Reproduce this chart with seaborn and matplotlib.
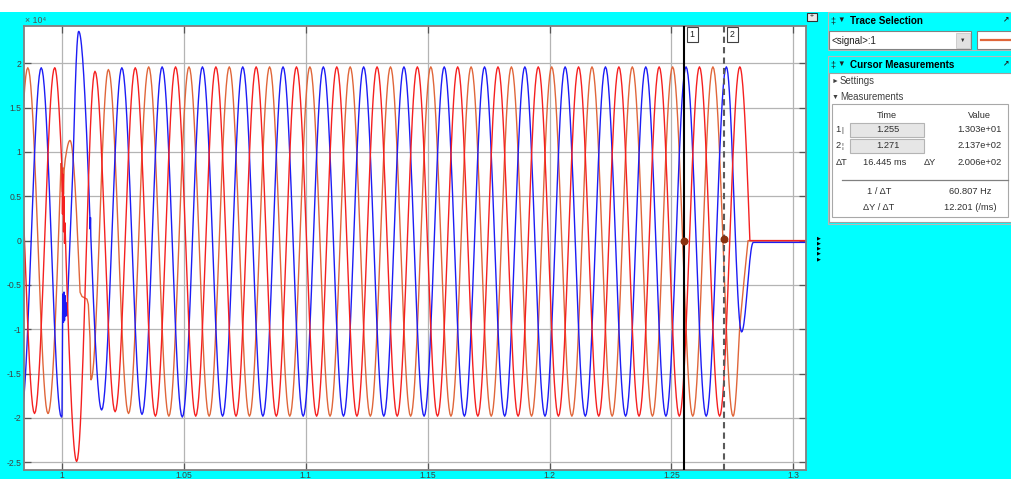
import numpy as np
import pandas as pd
import seaborn as sns
import matplotlib.pyplot as plt
from matplotlib.patches import Rectangle

# %%
# Values: time in s, amplitude in units of 1e4
signal_names = ['orange', 'blue', 'red']          # drawing order, red on top
signal_colors = {'orange': '#e0663a', 'blue': '#1c1cf5', 'red': '#f52020'}

half_period = 0.008266                              # s, peak to trough
steady_peak, steady_trough = 1.96, -1.98

# pre-fault cycles + fault transient at t = 1.000
# kind: 'x' = turning point (flat tangent), 'm' = point on a slope
orange_fault_t = [0.97770, 0.98597, 0.99424, 0.99959, 1.00020, 1.00041, 1.00062, 1.00082,
                  1.00123, 1.00328, 1.00738, 1.00820, 1.01026, 1.01080, 1.01149, 1.01190]
orange_fault_v = [-1.95, 1.95, -1.95, 0.87, 0.55, 0.82, 0.52, 0.78,
                  0.90, 1.13, -0.58, -0.63, -0.66, -0.72, -1.10, -1.57]
orange_fault_k = 'xxxmmmmmmxmmmmmx'

blue_fault_t = [0.98321, 0.99148, 0.99975, 1.00000, 1.00020, 1.00041, 1.00062, 1.00082,
                1.00103, 1.00123, 1.00144, 1.00164, 1.00205, 1.00451, 1.00685, 1.01145,
                1.01157, 1.01169, 1.01182]
blue_fault_v = [-1.95, 1.95, -1.99, -1.97, -0.90, -0.60, -0.92, -0.58,
                -0.90, -0.62, -0.85, -0.70, -0.85, 0.85, 2.36, 0.28,
                0.13, 0.26, 0.05]
blue_fault_k = 'xxxmmmmmmmmmmmxmmmm'

red_fault_t = [0.98047, 0.98873, 0.99699, 1.00000, 1.00020, 1.00041, 1.00062, 1.00082,
               1.00103, 1.00123, 1.00144, 1.00603]
red_fault_v = [1.95, -1.95, 1.95, 0.81, 0.30, 0.75, 0.10, 0.50,
               -0.03, 0.20, -0.02, -2.49]
red_fault_k = 'xxxmmmmmmmmx'

# steady oscillation after the fault: first turning point, count, settling extremes
steady_start = {'orange': 1.01903, 'blue': 1.01628, 'red': 1.01352}
steady_count = {'orange': 32, 'blue': 32, 'red': 33}
steady_sign = {'orange': 1, 'blue': -1, 'red': 1}
settle = {'orange': [1.93, -1.95, 1.96, -1.98],
          'blue': [-1.91, 1.95, -1.96, 1.96, -1.99],
          'red': [1.91, -1.93, 1.95, -1.98, 1.96]}

# breaker opening at the end, then flat
orange_end_t, orange_end_v, orange_end_k = [1.27793, 1.27937, 1.28142, 1.3060], [-1.00, -0.56, 0.0, 0.0], 'mmmm'
blue_end_t, blue_end_v, blue_end_k = [1.27877, 1.28359, 1.3060], [-1.03, -0.02, -0.02], 'xxm'
red_end_t, red_end_v, red_end_k = [1.28218, 1.3060], [0.0, 0.0], 'mm'

# cursors (signal 1)
cursor_t = [1.255, 1.2714]
cursor_v = [13.03, 213.7]           # raw value
table_rows = [('ΔT', '16.445 ms', 'ΔY', '2.006e+02')]
table_rate = [('1 / ΔT', '60.807 Hz'), ('ΔY / ΔT', '12.201 (/ms)')]

x_ticks = [1, 1.05, 1.1, 1.15, 1.2, 1.25, 1.3]
y_ticks = [-2.5, -2, -1.5, -1, -0.5, 0, 0.5, 1, 1.5, 2]

fault = {'orange': (orange_fault_t, orange_fault_v, orange_fault_k),
         'blue': (blue_fault_t, blue_fault_v, blue_fault_k),
         'red': (red_fault_t, red_fault_v, red_fault_k)}
ends = {'orange': (orange_end_t, orange_end_v, orange_end_k),
        'blue': (blue_end_t, blue_end_v, blue_end_k),
        'red': (red_end_t, red_end_v, red_end_k)}


def knots(name):
    t, v, k = list(fault[name][0]), list(fault[name][1]), fault[name][2]
    for j in range(steady_count[name]):
        t.append(steady_start[name] + j * half_period)
        if j < len(settle[name]):
            v.append(settle[name][j])
        else:
            v.append(steady_peak if steady_sign[name] * (-1) ** j > 0 else steady_trough)
        k += 'x'
    t += ends[name][0]
    v += ends[name][1]
    k += ends[name][2]
    return t, v, k


def curve(t, v, k, n=20):
    # shape between turning points follows the sine of the trace
    ts, vs = [], []
    s = np.linspace(0, 1, n, endpoint=False)
    for i in range(len(t) - 1):
        pair = k[i] + k[i + 1]
        if pair == 'xx':
            f = (1 - np.cos(np.pi * s)) / 2
        elif pair == 'xm':
            f = 1 - np.cos(np.pi * s / 2)
        elif pair == 'mx':
            f = np.sin(np.pi * s / 2)
        else:
            f = s
        ts.append(t[i] + (t[i + 1] - t[i]) * s)
        vs.append(v[i] + (v[i + 1] - v[i]) * f)
    ts.append([t[-1]])
    vs.append([v[-1]])
    return np.concatenate(ts), np.concatenate(vs)


frames = []
for name in signal_names:
    tt, vv = curve(*knots(name))
    frames.append(pd.DataFrame({'time': tt, 'value': vv, 'signal': name}))
df = pd.concat(frames, ignore_index=True)

# %%
plt.rcParams['font.family'] = ['Liberation Sans', 'DejaVu Sans']
plt.rcParams['axes.unicode_minus'] = False

fig = plt.figure(figsize=(10.11, 4.79), dpi=100, facecolor='#00ffff')
ax = fig.add_axes([24 / 1011, 9 / 479, 782 / 1011, 444 / 479])
ax.set_facecolor('white')

sns.lineplot(
    data=df
    , x='time'
    , y='value'
    , hue='signal'
    , hue_order=signal_names
    , palette=signal_colors
    , estimator=None
    , sort=False
    , legend=False
    , lw=1.0
    , ax=ax
)

ax.set_xlim(0.98441, 1.30520)
ax.set_ylim(-2.587, 2.4207)
ax.set_xticks(x_ticks)
ax.set_xticklabels(['%g' % x for x in x_ticks])
ax.set_yticks(y_ticks)
ax.set_yticklabels(['%g' % y for y in y_ticks])
ax.set_xlabel('')
ax.set_ylabel('')
ax.grid(True, color='#b4b4b4', lw=0.9)
ax.set_axisbelow(True)
ax.tick_params(direction='in', length=5, width=0.9, color='#555555', labelsize=6.2,
               labelcolor='#404040', top=True, right=True)
ax.tick_params(axis='x', pad=0.8)
ax.tick_params(axis='y', pad=1.8)
for sp in ax.spines.values():
    sp.set_color('#808080')
    sp.set_linewidth(1.3)

# cursors
ax.axvline(cursor_t[0], color='black', lw=1.5, zorder=5)
ax.axvline(cursor_t[1], color='#5a5a5a', lw=1.5, ls=(0, (3, 2)), zorder=5)
ax.scatter(cursor_t, [c / 1e4 for c in cursor_v], s=22, color='#8a3210', zorder=6)

# %% overlay in pixel units for the scope window furniture
ov = fig.add_axes([0, 0, 1, 1], zorder=5)
ov.set_xlim(0, 1011)
ov.set_ylim(479, 0)
ov.axis('off')

ov.add_patch(Rectangle((0, 0), 1011, 12, fc='white', ec='none'))
ov.text(25, 20.5, '× 10⁴', fontsize=6.3, color='#505050', va='center')

# cursor label boxes
for i, t in enumerate(cursor_t):
    xp = ax.transData.transform((t, 0))[0]
    ov.add_patch(Rectangle((xp + 3, 27), 11, 15, fc='white', ec='#404040', lw=0.8))
    ov.text(xp + 8.5, 34.5, str(i + 1), fontsize=6.3, ha='center', va='center', color='#202020')

# small controls next to the plot
ov.add_patch(Rectangle((806.5, 12.5), 10, 8, fc='#e8e8e8', ec='#303030', lw=0.8))
ov.text(811.5, 16.8, '+', fontsize=5, ha='center', va='center', color='#202020')
ov.text(818.5, 248, '\n'.join(['▶'] * 5), fontsize=3.6, linespacing=1.05,
        ha='center', va='center', color='black')

# Trace Selection panel
hdr = dict(fontsize=7.1, fontweight='bold', va='center', color='black')
ov.add_patch(Rectangle((828, 12), 190, 38, fc='none', ec='#b8b8b8', lw=0.8))
ov.text(830.5, 20.5, '‡', fontsize=6.5, va='center', color='#202020')
ov.text(837.5, 20.5, '▼', fontsize=5.5, va='center', color='#202020')
ov.text(850, 20.5, 'Trace Selection', **hdr)
ov.text(1003, 20, '↗', fontsize=5.5, fontweight='bold', va='center', color='#202020')
ov.add_patch(Rectangle((829, 31), 142, 18, fc='white', ec='#828282', lw=0.8))
ov.text(831, 40.5, '<signal>:1', fontsize=7, va='center', color='#202020')
ov.add_patch(Rectangle((956, 32.5), 14, 15.5, fc='#e1e1e1', ec='#c8c8c8', lw=0.6))
ov.text(963, 40.5, '▼', fontsize=4, ha='center', va='center', color='#303030')
ov.add_patch(Rectangle((977, 31), 40, 18, fc='white', ec='#828282', lw=0.8))
ov.plot([981, 1011], [40.3, 40.3], color=signal_colors['orange'], lw=1.6)

# Cursor Measurements panel
ov.add_patch(Rectangle((828, 56), 190, 168, fc='none', ec='#b8b8b8', lw=0.8))
ov.text(830.5, 64.5, '‡', fontsize=6.5, va='center', color='#202020')
ov.text(837.5, 64.5, '▼', fontsize=5.5, va='center', color='#202020')
ov.text(850, 64.5, 'Cursor Measurements', **hdr)
ov.text(1003, 64, '↗', fontsize=5.5, fontweight='bold', va='center', color='#202020')
ov.add_patch(Rectangle((829, 73), 190, 149, fc='white', ec='#a0a0a0', lw=0.8))
ov.text(832, 81, '►', fontsize=5, va='center', color='#404040')
ov.text(840, 81, 'Settings', fontsize=6.9, va='center', color='#404040')
ov.text(832, 97, '▼', fontsize=5, va='center', color='#404040')
ov.text(840, 97, 'Measurements', fontsize=6.9, va='center', color='#404040')
ov.add_patch(Rectangle((832, 104), 176, 113, fc='white', ec='#a8a8a8', lw=0.8))

cell = dict(fontsize=6.7, va='center', color='#303030')
ov.text(887, 115, 'Time', ha='center', **cell)
ov.text(979, 115, 'Value', ha='center', **cell)
for i, (t, val) in enumerate(zip(cursor_t, cursor_v)):
    y = 130 + 16 * i
    ov.text(835.5, y, str(i + 1), **cell)
    ov.text(841.5, y, '|' if i == 0 else '¦', fontsize=5.5, va='center', color='#303030')
    ov.add_patch(Rectangle((850, y - 7.5), 74, 14.5, fc='#e6e6e6', ec='#b4b4b4', lw=0.8))
    ov.text(887.5, y - 0.5, '%.3f' % t, ha='center', **cell)
    ov.text(1002, y, '%.3e' % val, ha='right', **cell)
for lbl, dt, lbl2, dy in table_rows:
    ov.text(836, 162.5, lbl, **cell)
    ov.text(885, 162.5, dt, ha='center', **cell)
    ov.text(930, 162.5, lbl2, ha='center', **cell)
    ov.text(1002, 162.5, dy, ha='right', **cell)
ov.plot([842, 1008], [180, 180], color='#808080', lw=0.9)
for i, (lbl, val) in enumerate(table_rate):
    y = 191 + 16 * i
    ov.text(879, y, lbl, ha='center', **cell)
    ov.text(970, y, val, ha='center', **cell)

fig.savefig('out.png', dpi=100, facecolor=fig.get_facecolor())
